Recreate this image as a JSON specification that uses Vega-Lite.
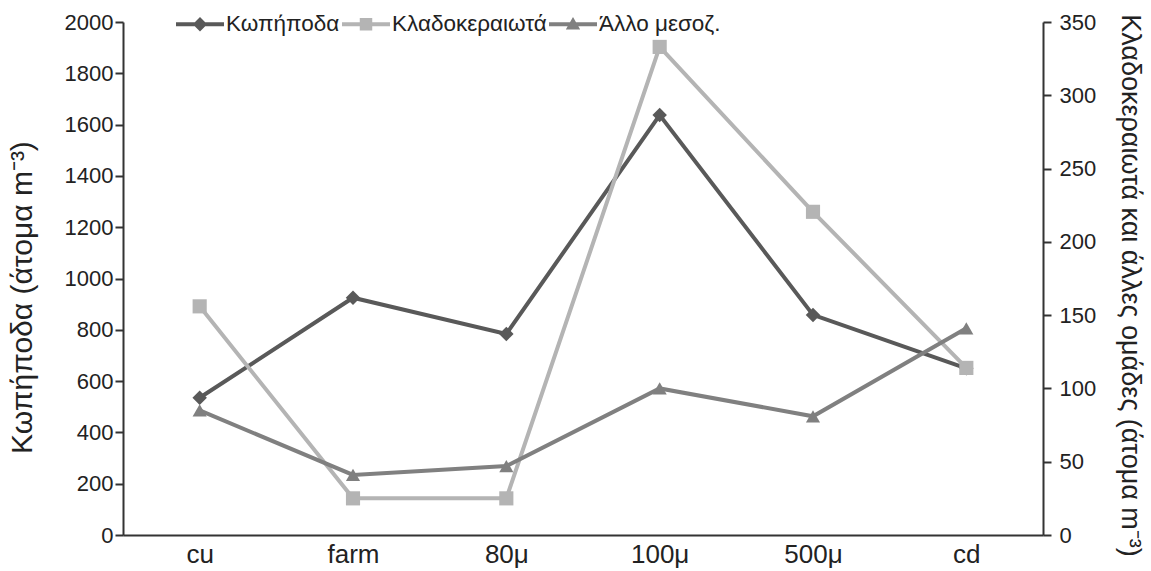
{
  "$schema": "https://vega.github.io/schema/vega-lite/v6.json",
  "width": 920,
  "height": 513,
  "autosize": "none",
  "padding": {"left": 123, "top": 22, "right": 108, "bottom": 36},
  "config": {
    "view": {"stroke": null},
    "font": "Liberation Sans",
    "axis": {
      "grid": false,
      "domainColor": "#333333",
      "domainWidth": 2,
      "tickColor": "#333333",
      "tickWidth": 2,
      "labelFont": "Liberation Sans",
      "labelFontSize": 22,
      "labelColor": "#222222",
      "titleFont": "Liberation Sans",
      "titleFontSize": 22,
      "titleFontWeight": "normal",
      "titleColor": "#222222"
    }
  },
  "datasets": {
    "d": [
      {"site": "cu", "kop": 535, "klad": 156, "allo": 85},
      {"site": "farm", "kop": 925, "klad": 25, "allo": 41},
      {"site": "80μ", "kop": 784, "klad": 25, "allo": 47},
      {"site": "100μ", "kop": 1637, "klad": 333, "allo": 100},
      {"site": "500μ", "kop": 858, "klad": 220.5, "allo": 81},
      {"site": "cd", "kop": 650, "klad": 114, "allo": 141}
    ],
    "leg": [
      {"series": "Κωπήποδα"},
      {"series": "Κλαδοκεραιωτά"},
      {"series": "Άλλο μεσοζ."}
    ]
  },
  "layer": [
    {
      "data": {"name": "d"},
      "encoding": {
        "x": {
          "field": "site", "type": "nominal",
          "scale": {"type": "point", "padding": 0.5, "domain": ["cu", "farm", "80μ", "100μ", "500μ", "cd"]},
          "axis": {"title": null, "ticks": false, "labelPadding": 6, "labelAngle": 0, "labelFontSize": 26}
        },
        "y": {
          "field": "kop", "type": "quantitative",
          "scale": {"domain": [0, 2000], "nice": false},
          "axis": {"orient": "left", "values": [0, 200, 400, 600, 800, 1000, 1200, 1400, 1600, 1800, 2000], "format": "d", "tickSize": 8, "labelPadding": 2, "titlePadding": 27, "titleFontSize": 30, "titleY": 275, "title": "Κωπήποδα (άτομα m⁻³)"}
        }
      },
      "layer": [
        {"mark": {"type": "line", "color": "#595959", "strokeWidth": 4}},
        {"mark": {"type": "point", "shape": "diamond", "filled": true, "size": 210, "color": "#595959", "opacity": 1}}
      ]
    },
    {
      "data": {"name": "d"},
      "encoding": {
        "x": {
          "field": "site", "type": "nominal",
          "scale": {"type": "point", "padding": 0.5, "domain": ["cu", "farm", "80μ", "100μ", "500μ", "cd"]},
          "axis": {"title": null, "ticks": false, "labelPadding": 6, "labelAngle": 0, "labelFontSize": 26}
        }
      },
      "layer": [
        {
          "mark": {"type": "line", "color": "#b4b4b4", "strokeWidth": 4},
          "encoding": {"y": {"field": "klad", "type": "quantitative", "scale": {"domain": [0, 350], "nice": false},
            "axis": {"orient": "right", "values": [0, 50, 100, 150, 200, 250, 300, 350], "tickSize": 8, "labelPadding": 8, "titlePadding": 20, "titleFontSize": 27, "titleY": 263, "title": "Κλαδοκεραιωτά και άλλες ομάδες (άτομα m⁻³)"}}}
        },
        {
          "mark": {"type": "point", "shape": "square", "filled": true, "size": 200, "color": "#b4b4b4", "opacity": 1},
          "encoding": {"y": {"field": "klad", "type": "quantitative"}}
        },
        {
          "mark": {"type": "line", "color": "#808080", "strokeWidth": 4},
          "encoding": {"y": {"field": "allo", "type": "quantitative"}}
        },
        {
          "mark": {"type": "point", "shape": "triangle-up", "filled": true, "size": 200, "color": "#808080", "opacity": 1},
          "encoding": {"y": {"field": "allo", "type": "quantitative"}}
        }
      ]
    },
    {
      "data": {"name": "leg"},
      "mark": {"type": "point", "filled": true, "opacity": 0},
      "encoding": {
        "color": {
          "field": "series", "type": "nominal",
          "scale": {"domain": ["Κωπήποδα", "Κλαδοκεραιωτά", "Άλλο μεσοζ."], "range": ["#595959", "#b4b4b4", "#808080"]},
          "legend": {"orient": "none", "legendX": 53, "legendY": -22, "direction": "horizontal", "title": null, "symbolSize": 2304, "symbolOpacity": 1, "symbolStrokeWidth": 0, "labelFont": "Liberation Sans", "labelFontSize": 22.5, "labelColor": "#222222", "labelOffset": 2, "columnPadding": 2, "padding": 0}
        },
        "shape": {
          "field": "series", "type": "nominal",
          "scale": {"domain": ["Κωπήποδα", "Κλαδοκεραιωτά", "Άλλο μεσοζ."], "range": [
            "M-1,-0.085L1,-0.085L1,0.085L-1,0.085ZM0,-0.3L0.3,0L0,0.3L-0.3,0Z",
            "M-1,-0.085L1,-0.085L1,0.085L-1,0.085ZM-0.26,-0.26L0.26,-0.26L0.26,0.26L-0.26,0.26Z",
            "M-1,-0.085L1,-0.085L1,0.085L-1,0.085ZM0,-0.3L0.3,0.22L-0.3,0.22Z"
          ]},
          "legend": {"orient": "none", "legendX": 53, "legendY": -22, "direction": "horizontal", "title": null, "symbolSize": 2304, "symbolOpacity": 1, "symbolStrokeWidth": 0, "labelFont": "Liberation Sans", "labelFontSize": 22.5, "labelColor": "#222222", "labelOffset": 2, "columnPadding": 2, "padding": 0}
        }
      }
    }
  ],
  "resolve": {"scale": {"y": "independent"}}
}
